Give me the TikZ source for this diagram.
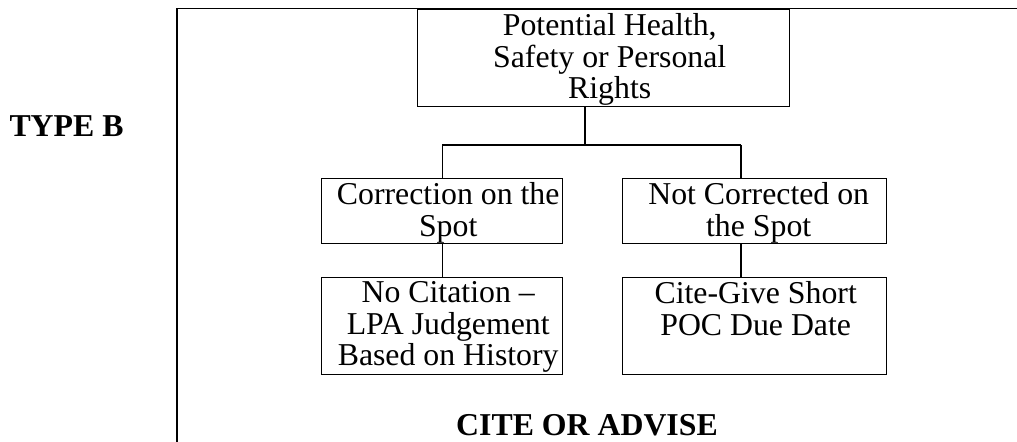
\documentclass[tikz,border=0pt]{standalone}
\usepackage{fontspec}
\setmainfont{Liberation Serif}
\usetikzlibrary{positioning}
\tikzset{
    boxNode/.style={rectangle, draw, line width=0.7pt, inner sep=0pt, anchor=north west},
    boxText/.style={align=center, inner sep=0pt, font=\fontsize{15.9}{15.75}\selectfont, execute at begin node=\strut},
    titleText/.style={inner sep=0pt, anchor=base, font=\fontsize{15.9}{15.75}\selectfont\bfseries},
    link/.style={line width=0.7pt},
    frameLine/.style={line width=0.8pt},
}
\begin{document}
\begin{tikzpicture}[x=0.5pt, y=-0.5pt]
        \useasboundingbox (0,0) rectangle (1017,442);
        \clip (0,0) rectangle (1017,442);

        \draw[frameLine] (177,460) -- (177,8.5) -- (1030,8.5);

        \node[boxNode, minimum width=186pt, minimum height=48.5pt] (hazard) at (417,9) {};
        \node[boxNode, minimum width=120.5pt, minimum height=32.5pt] (fixed) at (321,178) {};
        \node[boxNode, minimum width=132pt, minimum height=32.5pt] (notFixed) at (622,178) {};
        \node[boxNode, minimum width=120.5pt, minimum height=48.5pt] (noCite) at (321,277) {};
        \node[boxNode, minimum width=132pt, minimum height=48.5pt] (cite) at (622,277) {};

        \node[boxText, below=2.2pt of hazard.north, xshift=3pt] (hazardText) {Potential Health,\\Safety or Personal\\Rights};
        \node[boxText, below=2.2pt of fixed.north, xshift=3pt] (fixedText) {Correction on the\\Spot};
        \node[boxText, below=2.2pt of notFixed.north, xshift=2pt] (notFixedText) {Not Corrected on\\the Spot};
        \node[boxText, below=2.2pt of noCite.north, xshift=3pt] (noCiteText) {No Citation --\\LPA Judgement\\Based on History};
        \node[boxText, below=2.2pt of cite.north, xshift=0.5pt] (citeText) {Cite-Give Short\\POC Due Date};

        \coordinate (busMid) at (585,145);
        \coordinate (busLeft) at (fixed.north |- busMid);
        \coordinate (busRight) at (741,145);
        \draw[link] (busMid |- hazard.south) -- (busMid);
        \draw[link] (busLeft) -- (busRight);
        \draw[link] (busLeft) -- (fixed.north);
        \draw[link] (busRight) -- (busRight |- notFixed.north);
        \draw[link] (fixed.south) -- (noCite.north);
        \draw[link] (busRight |- notFixed.south) -- (busRight |- cite.north);

        \node[titleText] (typeB) at (66.5,137) {TYPE B};
        \node[titleText] (citeAdvise) at (587,436) {CITE OR ADVISE};

    \end{tikzpicture}
\end{document}
